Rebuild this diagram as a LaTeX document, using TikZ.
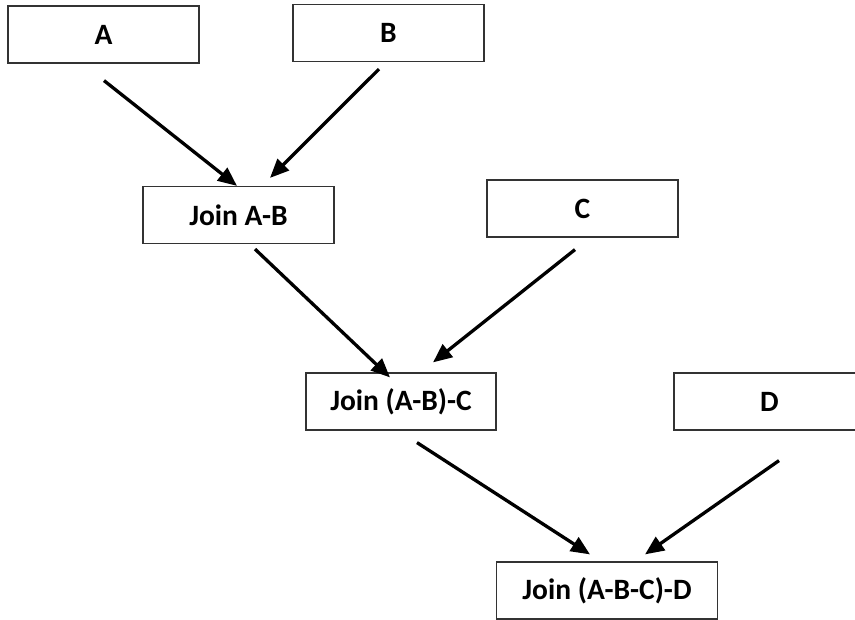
\documentclass[tikz,border=0pt]{standalone}
\usepackage{fontspec}
\setmainfont{Carlito}
\usetikzlibrary{arrows.meta}
\begin{document}
\begin{tikzpicture}[x=1pt,y=-1pt,
  joinbox/.style={draw=black!80,line width=1.2pt,rectangle,inner sep=0pt,
    minimum height=57pt,minimum width=191pt,font=\fontsize{29.5}{32}\selectfont\bfseries},
  flow/.style={line width=3.3pt,-{Triangle[length=19pt,width=16pt]}}]
\useasboundingbox (0,0) rectangle (855,620);
\clip (0,0) rectangle (855,620);
% tables and join results
\node[joinbox] (A)    at (103.5,34.5) {A};
\node[joinbox] (B)    at (388.5,33)   {B};
\node[joinbox] (JAB)  at (238.5,215)  {Join A-B};
\node[joinbox] (C)    at (582.5,208.5){C};
\node[joinbox,minimum width=190pt] (JABC) at (401,401.5) {Join (A-B)-C};
\node[joinbox] (D)    at (769.5,401.5){D};
\node[joinbox,minimum width=221pt] (JABCD) at (607,590.5) {Join (A-B-C)-D};
% join order
\draw[flow] ([xshift=0.5pt,yshift=-17pt]A.south) -- ([xshift=-1.5pt]JAB.north);
\draw[flow] ([xshift=-9.5pt,yshift=-7pt]B.south) -- ([xshift=31.5pt,yshift=8pt]JAB.north);
\draw[flow] ([xshift=16.5pt,yshift=-5pt]JAB.south) -- ([xshift=-11pt,yshift=-5pt]JABC.north);
\draw[flow] ([xshift=-7.5pt,yshift=-12pt]C.south) -- ([xshift=32pt,yshift=10pt]JABC.north);
\draw[flow] ([xshift=16pt,yshift=-12pt]JABC.south) -- ([xshift=-17pt,yshift=7pt]JABCD.north);
\draw[flow] ([xshift=9.5pt,yshift=-30pt]D.south) -- ([xshift=38pt,yshift=7pt]JABCD.north);
\end{tikzpicture}
\end{document}
